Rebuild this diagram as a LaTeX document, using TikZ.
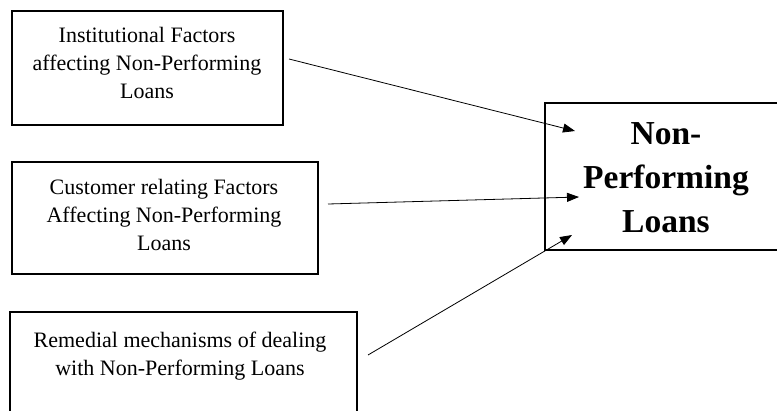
\documentclass[tikz,border=0pt]{standalone}
\usepackage{fontspec}
\setmainfont{Liberation Serif}
\usetikzlibrary{arrows.meta}
\begin{document}
\begin{tikzpicture}[x=1pt,y=-1pt,
  boxstyle/.style={draw=black,line width=1.7pt,rectangle,inner sep=0pt},
  txt/.style={align=center,font=\fontsize{22}{28}\selectfont,inner sep=0pt},
  bigtxt/.style={align=center,font=\fontsize{33.5}{44}\selectfont\bfseries,inner sep=0pt},
  arr/.style={draw=black,line width=0.8pt,-{Triangle[length=12pt,width=9pt]}}]
\useasboundingbox (0,0) rectangle (777,410);
% boxes
\node[boxstyle,minimum width=271pt,minimum height=114pt] (b1) at (147.5,68) {};
\node[boxstyle,minimum width=306pt,minimum height=112pt] (b2) at (165,218) {};
\node[boxstyle,minimum width=347pt,minimum height=120pt] (b3) at (183.5,372) {};
\node[boxstyle,minimum width=240pt,minimum height=147pt] (b4) at (665,176.5) {};
% texts
\node[txt] (t1) at (147,62.5) {Institutional Factors\\affecting Non-Performing\\Loans};
\node[txt] (t2) at (164,214.5) {Customer relating Factors\\Affecting Non-Performing\\Loans};
\node[txt] (t3) at (180,356) {Remedial mechanisms of dealing\\with Non-Performing Loans};
\node[bigtxt] (t4) at (666,178) {Non-\\Performing\\Loans};
% connector endpoints
\coordinate (s1) at (289,59);
\coordinate (e1) at (575,131);
\coordinate (s2) at (328,204);
\coordinate (e2) at (579,197);
\coordinate (s3) at (368,355);
\coordinate (e3) at (572,235);
\draw[arr] (s1) -- (e1);
\draw[arr] (s2) -- (e2);
\draw[arr] (s3) -- (e3);
\end{tikzpicture}
\end{document}
